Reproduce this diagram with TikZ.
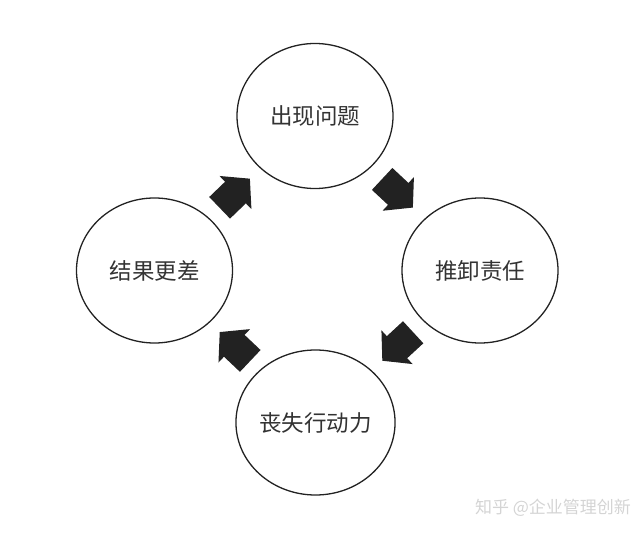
\documentclass[tikz,border=0pt]{standalone}
\usepackage{fontspec}
\newfontfamily\cjk{Noto Sans CJK SC}
\usetikzlibrary{shapes.geometric,calc}
\definecolor{ink}{HTML}{222222}
\definecolor{txt}{HTML}{333333}
\definecolor{wm}{HTML}{D4D4D4}
\tikzset{
  stage/.style={ellipse, draw=ink, line width=1.3pt, minimum width=156pt, minimum height=145pt, inner sep=0pt, font=\cjk\fontsize{22.5}{22.5}\selectfont, text=txt},
  blockarrow/.pic={\fill[ink] (-21,-15) -- (1,-15) -- (1,-23) -- (21,0) -- (1,23) -- (1,15) -- (-21,15) -- cycle;}
}
\begin{document}
\begin{tikzpicture}[x=1pt,y=1pt]
\useasboundingbox (0,0) rectangle (644,535);
\node[stage] (issue) at (315,419) {出现问题};
\node[stage] (blame) at (480,264.5) {推卸责任};
\node[stage] (lose)  at (315.5,112.5) {丧失行动力};
\node[stage] (worse) at (154.5,264.5) {结果更差};
\pic[rotate=-43] at ($(issue.center)!0.5!(blame.center)$) {blockarrow};
\pic[rotate=222.7] at ($(blame.center)!0.5!(lose.center)$) {blockarrow};
\pic[rotate=136.6] at ($(lose.center)!0.5!(worse.center)$) {blockarrow};
\pic[rotate=43.9] at ($(worse.center)!0.5!(issue.center)$) {blockarrow};
\node[font=\cjk\fontsize{17}{17}\selectfont, text=wm, inner sep=0pt] (mark) at (553,27) {知乎 @企业管理创新};
\end{tikzpicture}
\end{document}
